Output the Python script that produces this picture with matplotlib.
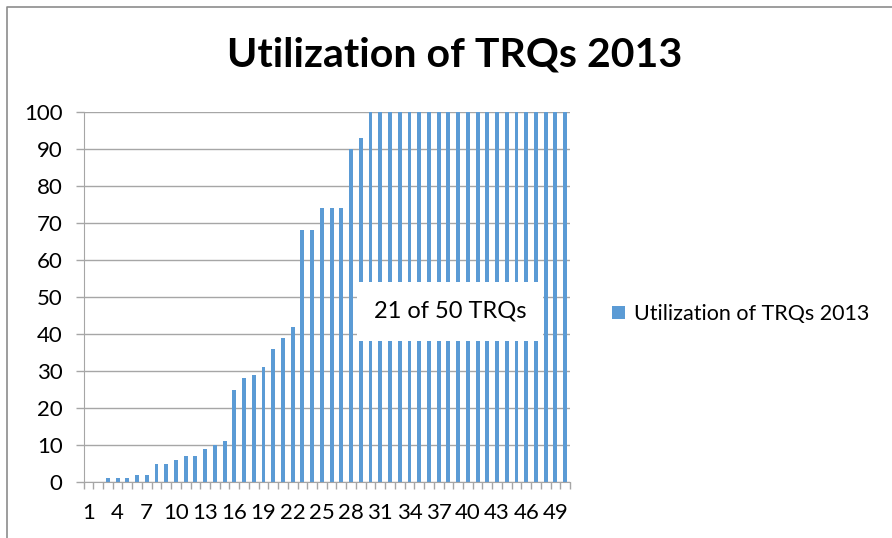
import matplotlib
matplotlib.use("Agg")
import matplotlib.pyplot as plt
from matplotlib.patches import Rectangle
from matplotlib.lines import Line2D

plt.rcParams['font.family'] = ['Lato', 'DejaVu Sans']

# data
trq_ids = list(range(1, 51))
utilization = [0, 0, 1, 1, 1, 2, 2, 5, 5, 6,
               7, 7, 9, 10, 11, 25, 28, 29, 31, 36,
               39, 42, 68, 68, 74, 74, 74, 90, 93, 100,
               100, 100, 100, 100, 100, 100, 100, 100, 100, 100,
               100, 100, 100, 100, 100, 100, 100, 100, 100, 100]
tick_labels = [str(i) for i in range(1, 51, 3)]
series_name = "Utilization of TRQs 2013"
note = "21 of 50 TRQs"

W, H = 892, 538
fig = plt.figure(figsize=(W / 100, H / 100), dpi=100)

# chart area border (top + left visible)
fig.add_artist(Line2D([7 / W, 7 / W, 1], [0, 1 - 7 / H, 1 - 7 / H],
                      color='#8c8c8c', lw=1.2, transform=fig.transFigure))

ax = fig.add_axes([83.5 / W, 56 / H, 486.5 / W, 370 / H])
ax.bar(trq_ids, utilization, width=0.4, color='#5b9bd5', zorder=2,
       label=series_name)

ax.set_xlim(0.5, 50.5)
ax.set_ylim(0, 100)
ax.set_yticks(range(0, 101, 10))
ax.yaxis.grid(True, color='#a6a6a6', lw=1.0, zorder=0)

ax.set_xticks(range(1, 51, 3))
ax.set_xticklabels(tick_labels)
ax.set_xticks([i + 0.5 for i in range(0, 51)], minor=True)
ax.tick_params(axis='x', which='major', length=0, pad=15, labelsize=16)
ax.tick_params(axis='x', which='minor', length=5, color='#a6a6a6', width=1)
ax.tick_params(axis='y', length=6, color='#a6a6a6', width=1, pad=9,
               labelsize=16)

for side in ['top', 'right']:
    ax.spines[side].set_visible(False)
ax.spines['left'].set_color('#a6a6a6')
ax.spines['bottom'].set_color('#a6a6a6')

# white note box over the bars
ax.add_patch(Rectangle((0.562, 0.381), 0.3825, 0.1595, transform=ax.transAxes,
                       facecolor='white', edgecolor='none', zorder=3))
ax.text(0.753, 0.461, note, transform=ax.transAxes, ha='center', va='center',
        fontsize=17, zorder=4)

fig.text(455 / W, 1 - 55 / H, "Utilization of TRQs 2013", ha='center',
         va='center', fontsize=29.5, fontweight='bold')

fig.legend(loc='center left', bbox_to_anchor=(593 / W, 1 - 314 / H),
           frameon=False, fontsize=15.5, handlelength=0.6, handleheight=0.6,
           handletextpad=0.4)

fig.savefig("out.png", dpi=100)
